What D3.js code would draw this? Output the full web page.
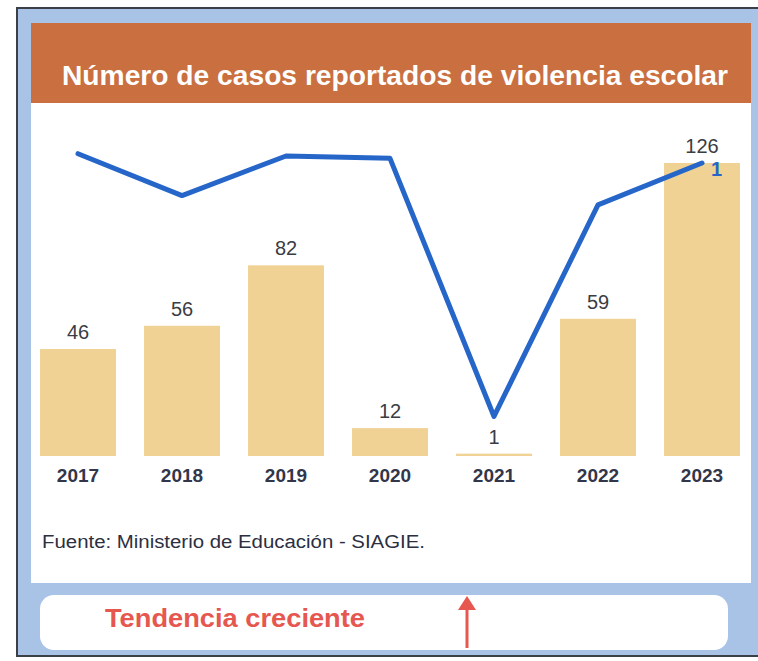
<!DOCTYPE html>
<html>
<head>
<meta charset="utf-8">
<script src="https://cdn.jsdelivr.net/npm/d3@7"></script>
<style>
  body { margin: 0; background: #ffffff; }
  svg { display: block; font-family: "Liberation Sans", Arial, sans-serif; }
</style>
</head>
<body>
<div id="chart"></div>
<script>
var years = ["2017", "2018", "2019", "2020", "2021", "2022", "2023"];
var casos = [46, 56, 82, 12, 1, 59, 126];
// trend line in the same units as the bars
var tendencia = [130, 112, 129, 128, 17, 108, 126];
var lineEndLabel = "1";
var title = "Número de casos reportados de violencia escolar";
var source = "Fuente: Ministerio de Educación - SIAGIE.";

var width = 758;
var height = 661;

var svg = d3.select("#chart").append("svg").attr("width", width).attr("height", height);

// outer frame
svg.append("rect")
  .attr("x", 17).attr("y", 8)
  .attr("width", 760).attr("height", 648)
  .attr("fill", "#a9c3e6")
  .attr("stroke", "#3a3f48")
  .attr("stroke-width", 2);

// header
svg.append("rect")
  .attr("x", 31).attr("y", 23)
  .attr("width", 720).attr("height", 80)
  .attr("fill", "#c96f40");

svg.append("text")
  .attr("x", 395).attr("y", 85)
  .attr("text-anchor", "middle")
  .attr("fill", "#ffffff")
  .attr("font-size", 27)
  .attr("font-weight", "bold")
  .attr("textLength", 666)
  .attr("lengthAdjust", "spacingAndGlyphs")
  .text(title);

// white panel
svg.append("rect")
  .attr("x", 31).attr("y", 103)
  .attr("width", 720).attr("height", 480)
  .attr("fill", "#ffffff");

var x = d3.scaleBand()
  .domain(years)
  .range([26, 754])
  .paddingInner(0.27)
  .paddingOuter(0.135);

var y = d3.scaleLinear()
  .domain([0, 126])
  .range([456, 163]);

svg.append("g")
  .selectAll("rect")
  .data(casos)
  .enter()
  .append("rect")
  .attr("x", function(d, i) { return x(years[i]); })
  .attr("y", function(d) { return y(d); })
  .attr("width", x.bandwidth())
  .attr("height", function(d) { return y(0) - y(d); })
  .attr("fill", "#f0d394");

svg.append("g")
  .selectAll("text")
  .data(casos)
  .enter()
  .append("text")
  .attr("x", function(d, i) { return x(years[i]) + x.bandwidth() / 2; })
  .attr("y", function(d) { return y(d) - 10; })
  .attr("text-anchor", "middle")
  .attr("font-size", 20)
  .attr("fill", "#3a3d44")
  .text(function(d) { return d; });

var xAxis = d3.axisBottom(x).tickSize(0).tickPadding(13);

var axisG = svg.append("g")
  .attr("transform", "translate(0," + y(0) + ")")
  .call(xAxis);
axisG.select(".domain").remove();
axisG.selectAll("text")
  .attr("font-size", 19)
  .attr("font-weight", "bold")
  .attr("fill", "#33364a")
  .attr("font-family", "Liberation Sans, Arial, sans-serif");

var line = d3.line()
  .x(function(d, i) { return x(years[i]) + x.bandwidth() / 2; })
  .y(function(d) { return y(d); });

svg.append("path")
  .datum(tendencia)
  .attr("d", line)
  .attr("fill", "none")
  .attr("stroke", "#2666c9")
  .attr("stroke-width", 5)
  .attr("stroke-linejoin", "round")
  .attr("stroke-linecap", "round");

svg.append("text")
  .attr("x", x(years[6]) + x.bandwidth() / 2 + 9)
  .attr("y", y(tendencia[6]) + 13)
  .attr("font-size", 20)
  .attr("font-weight", "bold")
  .attr("fill", "#2666c9")
  .text(lineEndLabel);

svg.append("text")
  .attr("x", 42).attr("y", 548)
  .attr("font-size", 18)
  .attr("fill", "#2c2f3f")
  .attr("textLength", 383)
  .attr("lengthAdjust", "spacingAndGlyphs")
  .text(source);

// bottom note box
svg.append("rect")
  .attr("x", 40).attr("y", 595)
  .attr("width", 688).attr("height", 55)
  .attr("rx", 14)
  .attr("fill", "#ffffff");

svg.append("text")
  .attr("x", 105).attr("y", 627)
  .attr("font-size", 26)
  .attr("font-weight", "bold")
  .attr("fill", "#e5574f")
  .attr("textLength", 260)
  .attr("lengthAdjust", "spacingAndGlyphs")
  .text("Tendencia creciente");

svg.append("line")
  .attr("x1", 467).attr("x2", 467)
  .attr("y1", 648).attr("y2", 604)
  .attr("stroke", "#e5574f")
  .attr("stroke-width", 3);

svg.append("path")
  .attr("d", "M458,610 L467,596 L476,610 Z")
  .attr("fill", "#e5574f");
</script>
</body>
</html>
